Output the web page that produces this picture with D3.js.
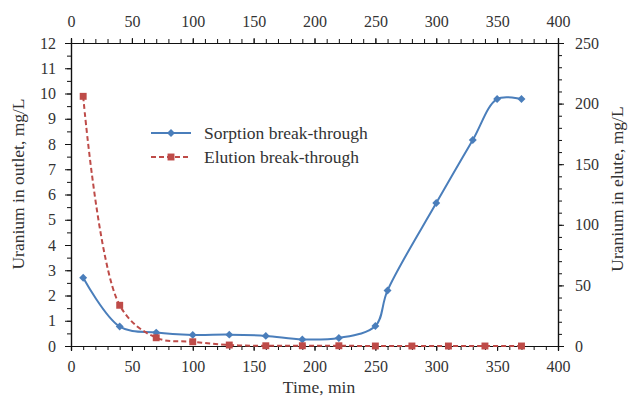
<!DOCTYPE html>
<html>
<head>
<meta charset="utf-8">
<script src="https://cdn.jsdelivr.net/npm/d3@7"></script>
<style>
  html, body { margin: 0; padding: 0; background: #fff; }
  svg { display: block; }
</style>
</head>
<body>
<svg id="chart" width="629" height="399" font-family="Liberation Serif, Times New Roman, serif"></svg>
<script>
// Sorption break-through: uranium in outlet (left axis, mg/L)
const sorptionTime = [10, 40, 70, 100, 130, 160, 190, 220, 250, 260, 300, 330, 350, 370];
const sorptionConc = [2.70, 0.77, 0.53, 0.44, 0.45, 0.40, 0.26, 0.32, 0.79, 2.2, 5.66, 8.16, 9.78, 9.78];

// Elution break-through: uranium in elute (right axis, mg/L)
const elutionTime = [10, 40, 70, 100, 130, 160, 190, 220, 250, 280, 310, 340, 370];
const elutionConc = [206, 33.6, 6.8, 3.5, 0.8, 0.2, 0.2, 0.2, 0, 0, 0, 0, 0];

const timeTicks = [0, 50, 100, 150, 200, 250, 300, 350, 400];
const leftTicks = [0, 1, 2, 3, 4, 5, 6, 7, 8, 9, 10, 11, 12];
const rightTicks = [0, 50, 100, 150, 200, 250];

const seriesNames = ["Sorption break-through", "Elution break-through"];
const blue = "#4A7EBB";
const red = "#BE4B48";
const serif = "Liberation Serif, Times New Roman, serif";

const svg = d3.select("#chart");
const L = 71, R = 558, T = 43, B = 346;

const x = d3.scaleLinear().domain([0, 400]).range([L, R]);
const yL = d3.scaleLinear().domain([0, 12]).range([B, T]);
const yR = d3.scaleLinear().domain([0, 250]).range([B, T]);

const axisColor = "#111";
const fontSize = 16;

function styleAxis(g) {
  g.attr("font-family", serif).attr("font-size", fontSize);
  g.selectAll("path.domain").attr("stroke", axisColor).attr("stroke-width", 1.2);
  g.selectAll(".tick line").attr("stroke", axisColor).attr("stroke-width", 1);
  g.selectAll("text").attr("fill", "#333");
}

// minor ticks (no labels) first, then the labelled major ticks
const minorX = d3.range(0, 401, 10);
const minorL = d3.range(0, 12.01, 0.5);
const minorR = d3.range(0, 251, 10);

svg.append("g").attr("transform", `translate(0,${B})`)
  .call(d3.axisBottom(x).tickValues(minorX).tickSize(4).tickFormat(""))
  .call(styleAxis);
svg.append("g").attr("transform", `translate(0,${T})`)
  .call(d3.axisTop(x).tickValues(minorX).tickSize(4).tickFormat(""))
  .call(styleAxis);
svg.append("g").attr("transform", `translate(${L},0)`)
  .call(d3.axisLeft(yL).tickValues(minorL).tickSize(4).tickFormat(""))
  .call(styleAxis);
svg.append("g").attr("transform", `translate(${R},0)`)
  .call(d3.axisRight(yR).tickValues(minorR).tickSize(4).tickFormat(""))
  .call(styleAxis);

svg.append("g").attr("transform", `translate(0,${B})`)
  .call(d3.axisBottom(x).tickValues(timeTicks).tickSize(5).tickPadding(10).tickFormat(d3.format("d")))
  .call(styleAxis);
svg.append("g").attr("transform", `translate(0,${T})`)
  .call(d3.axisTop(x).tickValues(timeTicks).tickSize(5).tickPadding(11).tickFormat(d3.format("d")))
  .call(styleAxis);
svg.append("g").attr("transform", `translate(${L},0)`)
  .call(d3.axisLeft(yL).tickValues(leftTicks).tickSize(6).tickPadding(9).tickFormat(d3.format("d")))
  .call(styleAxis);
svg.append("g").attr("transform", `translate(${R},0)`)
  .call(d3.axisRight(yR).tickValues(rightTicks).tickSize(6).tickPadding(11).tickFormat(d3.format("d")))
  .call(styleAxis);

// axis titles
const titles = svg.append("g").attr("font-family", serif).attr("font-size", 17.5).attr("fill", "#333");
titles.append("text").attr("x", 319).attr("y", 393).attr("text-anchor", "middle")
  .text("Time, min");
titles.append("text").attr("transform", "translate(24,184) rotate(-90)")
  .attr("text-anchor", "middle").text("Uranium in outlet, mg/L");
titles.append("text").attr("transform", "translate(623,189) rotate(-90)")
  .attr("text-anchor", "middle").text("Uranium in elute, mg/L");

const curve = d3.curveCatmullRom.alpha(0.5);

// sorption series
const sorption = sorptionTime.map((t, i) => ({ t, v: sorptionConc[i] }));
svg.append("path").datum(sorption)
  .attr("fill", "none").attr("stroke", blue).attr("stroke-width", 2)
  .attr("d", d3.line().x(d => x(d.t)).y(d => yL(d.v)).curve(curve));

// elution series
const elution = elutionTime.map((t, i) => ({ t, v: elutionConc[i] }));
svg.append("path").datum(elution)
  .attr("fill", "none").attr("stroke", red).attr("stroke-width", 2)
  .attr("stroke-dasharray", "5,3")
  .attr("d", d3.line().x(d => x(d.t)).y(d => yR(d.v)).curve(curve));

const diamond = d3.symbol().type(d3.symbolDiamond2).size(40);
const square = d3.symbol().type(d3.symbolSquare).size(48);

svg.append("g").selectAll("path").data(sorption).join("path")
  .attr("transform", d => `translate(${x(d.t)},${yL(d.v)})`)
  .attr("d", diamond).attr("fill", blue);

svg.append("g").selectAll("path").data(elution).join("path")
  .attr("transform", d => `translate(${x(d.t)},${yR(d.v)})`)
  .attr("d", square).attr("fill", red);

// legend
const legend = svg.append("g").attr("font-family", serif).attr("font-size", 17.5).attr("fill", "#333");
const legendRows = [
  { name: seriesNames[0], color: blue, dash: null, sym: diamond, y: 133 },
  { name: seriesNames[1], color: red, dash: "5,3", sym: square, y: 157 }
];
legendRows.forEach(r => {
  legend.append("line").attr("x1", 151).attr("x2", 191).attr("y1", r.y).attr("y2", r.y)
    .attr("stroke", r.color).attr("stroke-width", 2).attr("stroke-dasharray", r.dash);
  legend.append("path").attr("transform", `translate(171,${r.y})`).attr("d", r.sym).attr("fill", r.color);
  legend.append("text").attr("x", 204).attr("y", r.y + 5.5).text(r.name);
});
</script>
</body>
</html>
